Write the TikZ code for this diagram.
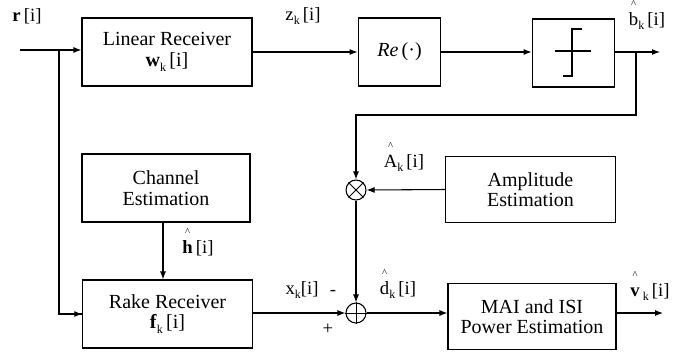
\documentclass[tikz,border=0pt]{standalone}
\usepackage{fontspec}
\setmainfont{Liberation Serif}
\usetikzlibrary{arrows.meta}
\newcommand{\hatit}[1]{\leavevmode\ooalign{#1\cr\hidewidth\raisebox{0.95em}{\footnotesize\textasciicircum}\hidewidth\cr}}
\newcommand{\subk}{\raisebox{-0.25em}{\small k}}
\begin{document}
\begin{tikzpicture}[x=0.75pt,y=-0.75pt,
  blk/.style={draw,line width=0.8pt,inner sep=0pt,align=center,font=\fontsize{15}{15.5}\selectfont},
  sumnode/.style={draw,circle,line width=0.8pt,minimum size=15pt,inner sep=0pt},
  lbl/.style={inner sep=0pt,font=\fontsize{14}{16}\selectfont},
  ln/.style={line width=0.8pt},
  arr/.style={line width=0.8pt,-{Latex[length=6pt,width=4.5pt]}}]
\useasboundingbox (0,0) rectangle (684,354);
% blocks
\node[blk,minimum width=127.5pt,minimum height=51pt] (lin) at (167,52) {Linear Receiver\\\textbf{w}\subk\,[i]};
\node[blk,minimum width=62pt,minimum height=51pt] (re) at (399.5,52) {\textit{Re}\,(\textperiodcentered)};
\node[blk,minimum width=62pt,minimum height=51pt] (sl) at (573.5,53) {};
\node[blk,minimum width=126pt,minimum height=51pt] (ch) at (166,188) {Channel\\Estimation};
\node[blk,minimum width=127pt,minimum height=51pt] (rake) at (167.5,314) {Rake Receiver\\\textbf{f}\subk\,[i]};
\node[blk,minimum width=127pt,minimum height=50pt] (amp) at (530.5,189.5) {Amplitude\\Estimation};
\node[blk,minimum width=126pt,minimum height=50pt] (mai) at (532,316.5) {MAI and ISI\\Power Estimation};
\node[sumnode] (mult) at (356,190) {};
\node[sumnode] (add) at (356,313) {};
% symbols inside circles
\draw[line width=0.7pt] (mult.45) -- (mult.225) (mult.135) -- (mult.315);
\draw[line width=0.7pt] (add.north) -- (add.south) (add.west) -- (add.east);
% slicer symbol
\draw[line width=0.8pt] (555,51) -- (591,51);
\draw[line width=0.8pt] (563,76) -- (572,76) -- (572,29) -- (582,29);
% coordinates
\coordinate (in) at (20,50);
\coordinate (j) at (59,50);
\coordinate (jb) at (636,52);
\coordinate (bout) at (660,52);
\coordinate (fb) at (636,115);
\coordinate (vout) at (663,313);
% connectors
\draw[arr] (in) -- (lin.west |- in);
\draw[ln] (j) |- (rake.west);
\draw[arr] (j |- rake.west) -- (rake.west);
\draw[arr] (lin.east) -- (re.west);
\draw[arr] (re.east) -- (re.east -| sl.west);
\draw[arr] (sl.east |- jb) -- (bout);
\draw[arr] (jb) -- (fb) -| (mult.north);
\draw[arr] (amp.west) -- (mult.east);
\draw[arr] (mult.south) -- (add.north);
\draw[arr] (ch.south -| 163,0) -- (rake.north -| 163,0);
\draw[arr] (rake.east |- add) -- (add.west);
\draw[arr] (add.east) -- (add -| mai.west);
\draw[arr] (mai.east |- vout) -- (vout);
% labels
\node[lbl] (lr) at (27,16) {\textbf{r}\,[i]};
\node[lbl] (lz) at (303,16) {z\subk\,[i]};
\node[lbl] (lb) at (647,21) {\hatit{b}\subk\,[i]};
\node[lbl] (la) at (404,163) {\hatit{A}\subk\,[i]};
\node[lbl] (lh) at (198,248) {\hatit{\textbf{h}}\,[i]};
\node[lbl] (lx) at (302,290) {x\subk[i]};
\node[lbl] (lm) at (333,293) {-};
\node[lbl] (lp) at (328,329) {+};
\node[lbl] (ld) at (398,290) {\hatit{d}\subk\,[i]};
\node[lbl] (lv) at (650,292) {\hatit{\textbf{v}}\,\subk\,[i]};
\end{tikzpicture}
\end{document}
